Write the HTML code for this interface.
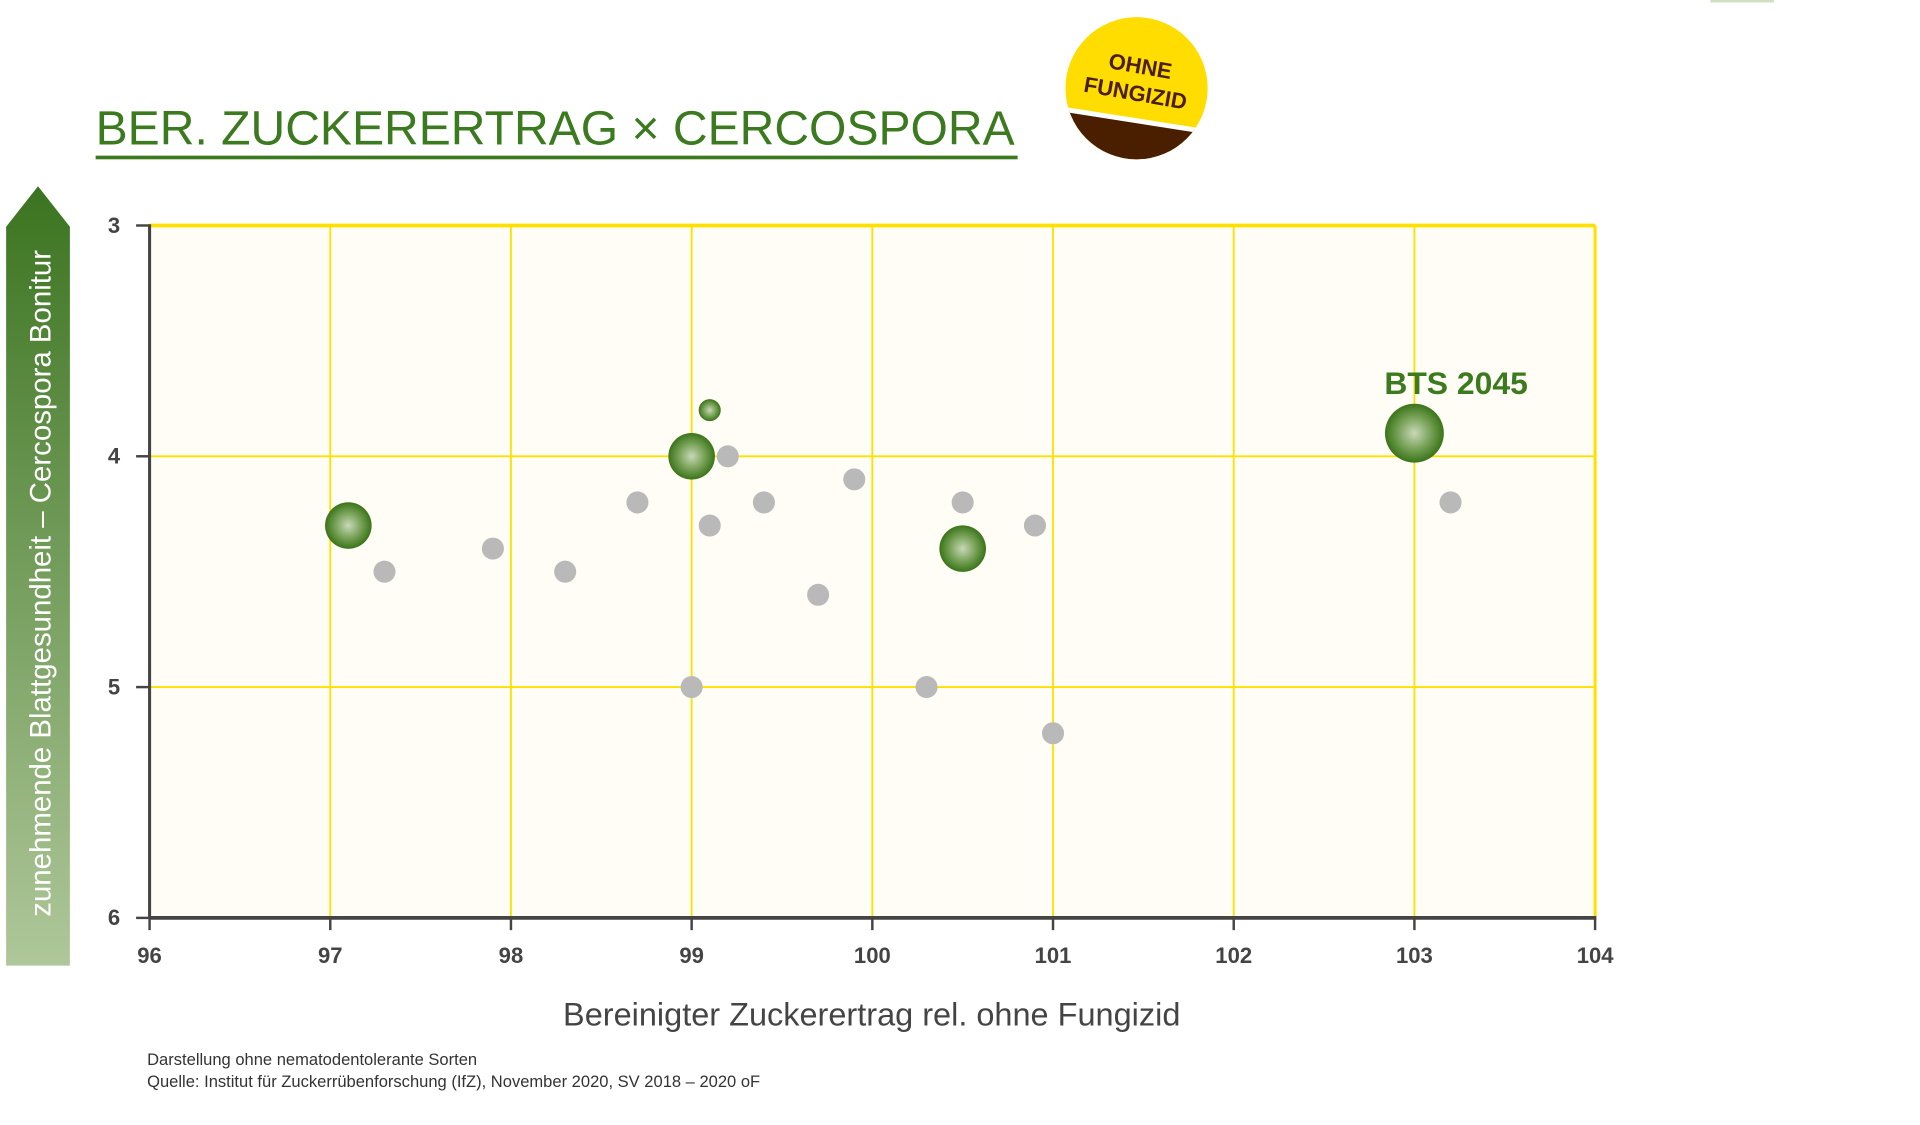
<!DOCTYPE html>
<html><head><meta charset="utf-8"><style>
html,body{margin:0;padding:0;background:#fff;}
svg{display:block;font-family:"Liberation Sans",sans-serif;}
</style></head><body>
<svg id="chart" width="1920" height="1125" viewBox="0 0 1566 918" preserveAspectRatio="none" xmlns="http://www.w3.org/2000/svg">
<defs>
<linearGradient id="arrowGrad" x1="0" y1="0" x2="0" y2="1">
<stop offset="0" stop-color="#3b7420"/><stop offset="1" stop-color="#afc79a"/></linearGradient>
<radialGradient id="greenDot" cx="0.5" cy="0.5" r="0.5">
<stop offset="0" stop-color="#c9d8b8"/><stop offset="0.55" stop-color="#78a258"/><stop offset="1" stop-color="#3a7419"/></radialGradient>
<clipPath id="badgeClip"><circle cx="927" cy="72" r="58"/></clipPath>
</defs>
<rect x="1395" y="0" width="52" height="2" fill="#cfe0c0"/>
<text x="78" y="118" font-size="39.2" fill="#3c7a1f">BER. ZUCKERERTRAG × CERCOSPORA</text>
<rect x="78" y="127" width="752" height="3" fill="#3c7a1f"/>
<g>
<g clip-path="url(#badgeClip)">
<rect x="860" y="10" width="140" height="130" fill="#ffdd00"/>
<polygon points="860,88 1000,110 1000,140 860,140" fill="#4a1f00"/>
<line x1="860" y1="88" x2="1000" y2="110" stroke="#fff" stroke-width="4"/>
</g>
<text transform="translate(929,60) rotate(10)" text-anchor="middle" font-size="18" font-weight="bold" fill="#4a1f00">OHNE</text>
<text transform="translate(925,82) rotate(10)" text-anchor="middle" font-size="18" font-weight="bold" fill="#4a1f00">FUNGIZID</text>
</g>
<g>
<polygon points="31,152 57,185 57,788 5,788 5,185" fill="url(#arrowGrad)"/>
<text transform="translate(41,476) rotate(-90)" text-anchor="middle" font-size="24" fill="#ffffff">zunehmende Blattgesundheit – Cercospora Bonitur</text>
</g>
<rect x="122" y="184" width="1179" height="565" fill="#fffdf5"/>
<g id="grid"></g>
<g id="axes"></g>
<g id="points"></g>
<text x="711" y="837" text-anchor="middle" font-size="26.5" fill="#444">Bereinigter Zuckerertrag rel. ohne Fungizid</text>
<text x="120" y="869" font-size="13.5" fill="#333">Darstellung ohne nematodentolerante Sorten</text>
<text x="120" y="887" font-size="13.5" fill="#333">Quelle: Institut für Zuckerrübenforschung (IfZ), November 2020, SV 2018 – 2020 oF</text>
</svg>
<script>
const xTicks = [96, 97, 98, 99, 100, 101, 102, 103, 104];
const yTicks = [3, 4, 5, 6];
const greenX = [97.1, 99.0, 99.1, 100.5, 103.0];
const greenY = [4.3, 4.0, 3.8, 4.4, 3.9];
const greenSize = [19, 19, 9, 19, 24];
const greyX = [97.3, 97.9, 98.3, 98.7, 99.0, 99.1, 99.2, 99.4, 99.7, 99.9, 100.3, 100.5, 100.9, 101.0, 103.2];
const greyY = [4.5, 4.4, 4.5, 4.2, 5.0, 4.3, 4.0, 4.2, 4.6, 4.1, 5.0, 4.2, 4.3, 5.2, 4.2];
const highlightLabel = "BTS 2045";

const NS = "http://www.w3.org/2000/svg";
const L = 122, R = 1301, T = 184, B = 749;
const xMin = 96, xMax = 104, yMin = 3, yMax = 6;
function sx(v){ return L + (v - xMin) / (xMax - xMin) * (R - L); }
function sy(v){ return T + (v - yMin) / (yMax - yMin) * (B - T); }
function mk(tag, attrs, parent){ const e = document.createElementNS(NS, tag); for (const k in attrs) e.setAttribute(k, attrs[k]); parent.appendChild(e); return e; }

const grid = document.getElementById('grid');
const axes = document.getElementById('axes');
const pts = document.getElementById('points');

xTicks.forEach(function(t){
  const x = sx(t);
  if (t !== xMin) {
    const g = mk('line', {x1:x, y1:T, x2:x, y2:B, stroke:'#ffe000', 'stroke-width': (t === xMax ? 2.5 : 1.5)}, grid);
    
    
  }
  const tk = mk('line', {x1:x, y1:B, x2:x, y2:B+10, stroke:'#444', 'stroke-width':2}, axes);
  
  
  const lb = mk('text', {x:x, y:B+37, 'text-anchor':'middle', 'font-size':18, 'font-weight':'bold', fill:'#444'}, axes);
  lb.textContent = t;
  
  
});
yTicks.forEach(function(t){
  const y = sy(t);
  if (t !== yMax) {
    const g = mk('line', {x1:L, y1:y, x2:R, y2:y, stroke:'#ffe000', 'stroke-width': (t === yMin ? 3 : 1.5)}, grid);
    
    
  }
  const tk = mk('line', {x1:L-11, y1:y, x2:L, y2:y, stroke:'#444', 'stroke-width':2}, axes);
  
  
  const lb = mk('text', {x:L-24, y:y+6, 'text-anchor':'end', 'font-size':18, 'font-weight':'bold', fill:'#444'}, axes);
  lb.textContent = t;
  
  
});
const ya = mk('line', {x1:L, y1:T-1, x2:L, y2:B, stroke:'#444', 'stroke-width':2.5}, axes);


const xa = mk('line', {x1:L, y1:B, x2:R+1, y2:B, stroke:'#444', 'stroke-width':3}, axes);



greyX.forEach(function(v, i){
  const c = mk('circle', {cx:sx(v), cy:sy(greyY[i]), r:9, fill:'#b9b9b9'}, pts);
  
  
});
greenX.forEach(function(v, i){
  const c = mk('circle', {cx:sx(v), cy:sy(greenY[i]), r:greenSize[i], fill:'url(#greenDot)'}, pts);
  
  
});
const bi = greenSize.indexOf(Math.max.apply(null, greenSize));
const lab = mk('text', {x:sx(greenX[bi]) + 34, y:sy(greenY[bi]) - 32, 'text-anchor':'middle', 'font-size':26, 'font-weight':'bold', fill:'#3c7a1f'}, pts);
lab.textContent = highlightLabel;


</script>
</body></html>
